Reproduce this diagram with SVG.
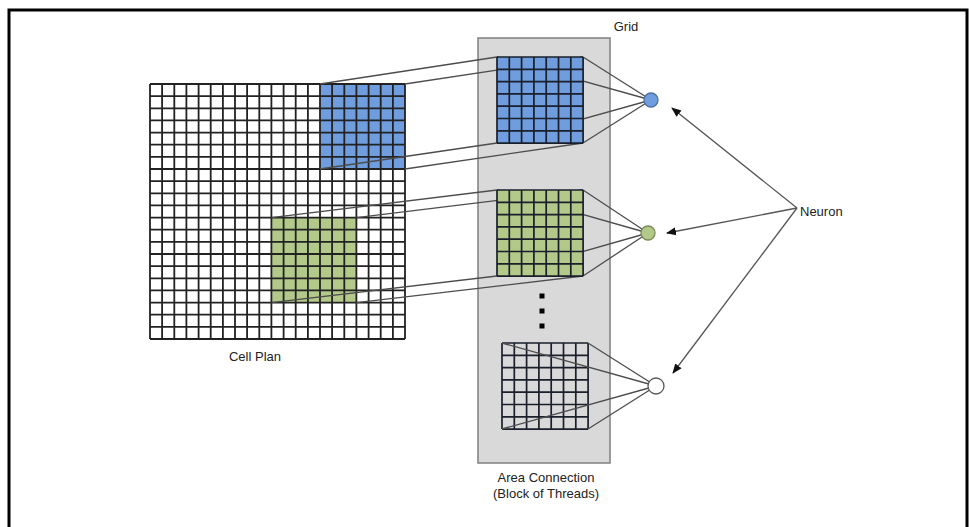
<svg xmlns="http://www.w3.org/2000/svg" xmlns:xlink="http://www.w3.org/1999/xlink" width="969" height="527" viewBox="0 0 969 527">
<style>
.lbl{font-family:"Liberation Sans",Arial,sans-serif;font-size:13px;fill:#222}
.grid{fill:none;stroke:#222;stroke-width:1.8}
.sgrid{fill:none;stroke:#1a1f2b;stroke-width:1.7}
.con{fill:none;stroke:#4d4d4d;stroke-width:1.3}
.arr{fill:none;stroke:#555;stroke-width:1.3;marker-end:url(#ah)}
</style>
<defs>
<marker id="ah" viewBox="0 0 10 10" refX="9" refY="5" markerWidth="10" markerHeight="10" markerUnits="userSpaceOnUse" orient="auto">
<path d="M0,1 L10,5 L0,9 Z" fill="#111"/>
</marker>
<g id="sg">
<path class="sgrid" d="M0,0H86.1M0,12.3H86.1M0,24.6H86.1M0,36.9H86.1M0,49.2H86.1M0,61.5H86.1M0,73.8H86.1M0,86.1H86.1M0,0V86.1M12.3,0V86.1M24.6,0V86.1M36.9,0V86.1M49.2,0V86.1M61.5,0V86.1M73.8,0V86.1M86.1,0V86.1"/>
</g>
</defs>
<rect width="969" height="527" fill="#fff"/>
<path d="M9,527V10H967V527" fill="none" stroke="#000" stroke-width="3"/>

<g id="cell-plan">
<rect x="150" y="84" width="255" height="255" fill="#fff"/>
<rect x="320" y="84" width="85" height="85" fill="#6f9ddd"/>
<rect x="271.4" y="217.6" width="85" height="85" fill="#b3c98a"/>
<path class="grid" d="M150,84V339M162.1,84V339M174.3,84V339M186.4,84V339M198.6,84V339M210.7,84V339M222.9,84V339M235,84V339M247.1,84V339M259.3,84V339M271.4,84V339M283.6,84V339M295.7,84V339M307.9,84V339M320,84V339M332.1,84V339M344.3,84V339M356.4,84V339M368.6,84V339M380.7,84V339M392.9,84V339M405,84V339M150,84H405M150,96.1H405M150,108.3H405M150,120.4H405M150,132.6H405M150,144.7H405M150,156.9H405M150,169H405M150,181.1H405M150,193.3H405M150,205.4H405M150,217.6H405M150,229.7H405M150,241.9H405M150,254H405M150,266.1H405M150,278.3H405M150,290.4H405M150,302.6H405M150,314.7H405M150,326.9H405M150,339H405"/>
<text class="lbl" x="255" y="361" text-anchor="middle">Cell Plan</text>
</g>

<g id="area-connection">
<rect x="478" y="38" width="132" height="425" fill="#d9d9d9" stroke="#7f7f7f" stroke-width="1.5"/>
<text class="lbl" x="626" y="31" text-anchor="middle">Grid</text>
<text class="lbl" x="546" y="482" text-anchor="middle">Area Connection</text>
<text class="lbl" x="546" y="498" text-anchor="middle">(Block of Threads)</text>
<rect x="539.5" y="293.5" width="5" height="5" fill="#000"/>
<rect x="539.5" y="308.5" width="5" height="5" fill="#000"/>
<rect x="539.5" y="323.5" width="5" height="5" fill="#000"/>
</g>

<g id="block-3">
<use xlink:href="#sg" href="#sg" x="502" y="343"/>
</g>

<g id="connectors">
<path class="con" d="M320,84L497,57M405,84L583,57M320,169L497,143M405,169L583,143"/>
<path class="con" d="M497,57L651,100M583,57L651,100M497,143L651,100M583,143L651,100"/>
<path class="con" d="M271.4,217.6L497,190M356.4,217.6L583,190M271.4,302.6L497,276M356.4,302.6L583,276"/>
<path class="con" d="M497,190L648,233M583,190L648,233M497,276L648,233M583,276L648,233"/>
<path class="con" d="M502,343L656,386M588,343L656,386M502,429L656,386M588,429L656,386"/>
<path class="arr" d="M797,208L672,108"/>
<path class="arr" d="M797,208L667,233"/>
<path class="arr" d="M797,208L673,373"/>
</g>

<g id="block-1">
<rect x="497" y="57" width="86.1" height="86.1" fill="#6f9ddd"/>
<use xlink:href="#sg" href="#sg" x="497" y="57"/>
</g>
<g id="block-2">
<rect x="497" y="190" width="86.1" height="86.1" fill="#b3c98a"/>
<use xlink:href="#sg" href="#sg" x="497" y="190"/>
</g>

<g id="neuron-1"><circle cx="651" cy="100" r="7" fill="#6f9ddd" stroke="#4f6f9f" stroke-width="1.3"/></g>
<g id="neuron-2"><circle cx="648" cy="233" r="7" fill="#b3c98a" stroke="#7a8c55" stroke-width="1.3"/></g>
<g id="neuron-3"><circle cx="656" cy="386" r="8" fill="#fff" stroke="#555" stroke-width="1.3"/></g>

<g id="neuron-label">
<text class="lbl" x="800" y="216">Neuron</text>
</g>
</svg>
